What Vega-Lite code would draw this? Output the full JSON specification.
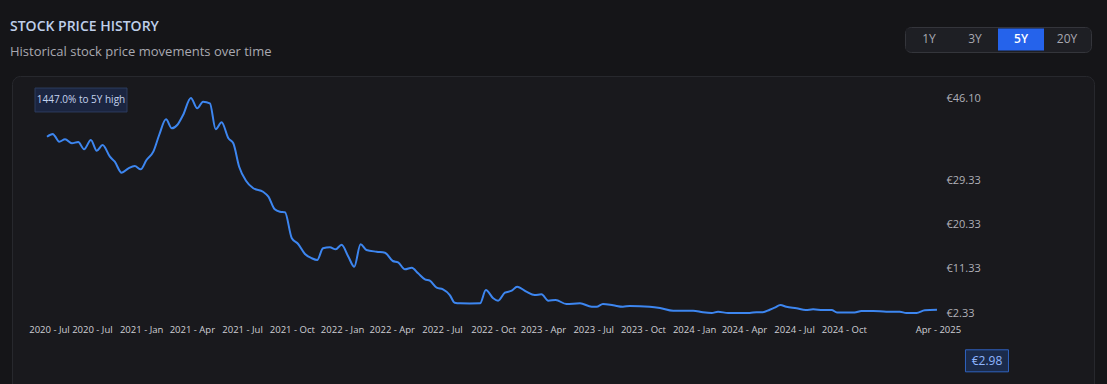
{
  "$schema": "https://vega.github.io/schema/vega-lite/v6.json",
  "width": 1082,
  "height": 318,
  "autosize": {"type": "none"},
  "padding": {"left": 12, "top": 76, "right": 13, "bottom": 0},
  "background": "#151518",
  "config": {
    "font": "Open Sans",
    "view": {"fill": "#19191d", "stroke": "#27282d", "cornerRadius": 8}
  },
  "title": {
    "text": "STOCK PRICE HISTORY",
    "subtitle": "Historical stock price movements over time",
    "anchor": "start",
    "frame": "group",
    "dx": -2,
    "dy": 50,
    "offset": 18,
    "font": "Open Sans",
    "fontSize": 14,
    "fontWeight": 600,
    "color": "#bfcfea",
    "subtitleFont": "Open Sans",
    "subtitleColor": "#a9a9b1",
    "subtitleFontSize": 13,
    "subtitlePadding": 12
  },
  "datasets": {
    "prices": [
      {"day": 0, "price": 38.22}, {"day": 12, "price": 38.77}, {"day": 16, "price": 38.36}, {"day": 25, "price": 37.20},
      {"day": 37, "price": 37.69}, {"day": 51, "price": 36.88}, {"day": 64, "price": 37.14}, {"day": 76, "price": 35.66},
      {"day": 90, "price": 37.55}, {"day": 102, "price": 35.37}, {"day": 114, "price": 36.53}, {"day": 129, "price": 34.15},
      {"day": 139, "price": 33.13}, {"day": 153, "price": 30.89}, {"day": 167, "price": 31.79}, {"day": 180, "price": 32.26},
      {"day": 192, "price": 31.58}, {"day": 204, "price": 33.48}, {"day": 218, "price": 35.17}, {"day": 230, "price": 38.57},
      {"day": 244, "price": 41.76}, {"day": 256, "price": 39.93}, {"day": 267, "price": 40.60}, {"day": 279, "price": 42.64},
      {"day": 295, "price": 46.10}, {"day": 308, "price": 44.00}, {"day": 320, "price": 45.35}, {"day": 334, "price": 45.02},
      {"day": 346, "price": 39.73}, {"day": 358, "price": 41.15}, {"day": 372, "price": 37.90}, {"day": 382, "price": 36.88},
      {"day": 394, "price": 32.11}, {"day": 408, "price": 29.26}, {"day": 423, "price": 27.72}, {"day": 443, "price": 27.02},
      {"day": 454, "price": 26.01}, {"day": 467, "price": 23.44}, {"day": 478, "price": 22.95}, {"day": 488, "price": 22.83},
      {"day": 502, "price": 17.54}, {"day": 515, "price": 16.38}, {"day": 529, "price": 14.34}, {"day": 543, "price": 13.47},
      {"day": 554, "price": 13.12}, {"day": 566, "price": 15.50}, {"day": 580, "price": 15.71}, {"day": 592, "price": 15.30},
      {"day": 604, "price": 16.23}, {"day": 618, "price": 13.79}, {"day": 630, "price": 11.76}, {"day": 643, "price": 16.32},
      {"day": 655, "price": 15.16}, {"day": 676, "price": 14.81}, {"day": 693, "price": 14.61}, {"day": 709, "price": 12.92},
      {"day": 720, "price": 12.65}, {"day": 734, "price": 11.23}, {"day": 748, "price": 11.55}, {"day": 761, "price": 10.41},
      {"day": 775, "price": 9.19}, {"day": 785, "price": 8.91}, {"day": 799, "price": 7.48}, {"day": 812, "price": 7.15},
      {"day": 826, "price": 5.99}, {"day": 836, "price": 4.43}, {"day": 847, "price": 4.30}, {"day": 867, "price": 4.28},
      {"day": 888, "price": 4.30}, {"day": 900, "price": 7.01}, {"day": 915, "price": 5.32}, {"day": 925, "price": 4.83},
      {"day": 939, "price": 6.46}, {"day": 953, "price": 6.87}, {"day": 964, "price": 7.68}, {"day": 983, "price": 6.67},
      {"day": 1000, "price": 5.99}, {"day": 1014, "price": 6.14}, {"day": 1028, "price": 4.83}, {"day": 1043, "price": 4.98},
      {"day": 1065, "price": 4.16}, {"day": 1093, "price": 4.30}, {"day": 1117, "price": 3.61}, {"day": 1127, "price": 3.61},
      {"day": 1140, "price": 4.16}, {"day": 1161, "price": 3.90}, {"day": 1181, "price": 3.61}, {"day": 1195, "price": 3.76},
      {"day": 1236, "price": 3.61}, {"day": 1257, "price": 3.35}, {"day": 1284, "price": 2.80}, {"day": 1311, "price": 2.80},
      {"day": 1325, "price": 2.80}, {"day": 1345, "price": 2.47}, {"day": 1363, "price": 2.33}, {"day": 1376, "price": 2.59},
      {"day": 1397, "price": 2.33}, {"day": 1421, "price": 2.33}, {"day": 1441, "price": 2.35}, {"day": 1455, "price": 2.47},
      {"day": 1468, "price": 2.47}, {"day": 1482, "price": 3.00}, {"day": 1492, "price": 3.41}, {"day": 1504, "price": 3.96},
      {"day": 1516, "price": 3.61}, {"day": 1537, "price": 3.29}, {"day": 1556, "price": 2.94}, {"day": 1571, "price": 3.08},
      {"day": 1591, "price": 2.94}, {"day": 1609, "price": 2.94}, {"day": 1620, "price": 2.43}, {"day": 1639, "price": 2.43},
      {"day": 1656, "price": 2.43}, {"day": 1670, "price": 2.74}, {"day": 1694, "price": 2.74}, {"day": 1721, "price": 2.59},
      {"day": 1749, "price": 2.59}, {"day": 1762, "price": 2.33}, {"day": 1783, "price": 2.35}, {"day": 1800, "price": 2.88},
      {"day": 1825, "price": 2.98}
    ],
    "ranges": [
      {"range": "1Y"}, {"range": "3Y"}, {"range": "5Y"}, {"range": "20Y"}
    ]
  },
  "layer": [
    {
      "data": {"name": "ranges"},
      "mark": {"type": "point", "filled": true, "size": 0, "opacity": 1},
      "encoding": {
        "color": {
          "field": "range",
          "type": "nominal",
          "scale": {"domain": ["1Y", "3Y", "5Y", "20Y"], "range": ["#1e1f24", "#1e1f24", "#2563eb", "#1e1f24"]},
          "legend": {
            "title": null,
            "orient": "none",
            "legendX": 893,
            "legendY": -49,
            "direction": "horizontal",
            "columns": 4,
            "columnPadding": 0,
            "rowPadding": 0,
            "symbolType": "M-1,-1H1V-0.043H-1Z",
            "symbolSize": 2116,
            "symbolStrokeWidth": 0,
            "symbolOpacity": 1,
            "labelOffset": -23,
            "labelAlign": "center",
            "labelBaseline": "middle",
            "labelFontSize": 12,
            "labelColor": "#a8a8b0",
            "fillColor": "#1e1f24",
            "strokeColor": "#34353b",
            "cornerRadius": 6,
            "padding": 1,
            "encode": {
              "labels": {
                "update": {
                  "fill": {"signal": "datum.label === '5Y' ? '#ffffff' : '#a8a8b0'"},
                  "fontWeight": {"signal": "datum.label === '5Y' ? 600 : 400"},
                  "dy": {"value": -12}
                }
              }
            }
          }
        }
      }
    },
    {
      "data": {"name": "prices"},
      "mark": {"type": "line", "interpolate": "monotone", "color": "#3d86f0", "strokeWidth": 2},
      "encoding": {
        "x": {
          "field": "day",
          "type": "quantitative",
          "scale": {"domain": [-71.8, 2147], "nice": false, "zero": false},
          "axis": {
            "title": null,
            "values": [4, 92, 193, 297, 400, 502, 605, 707, 810, 915, 1017, 1120, 1222, 1327, 1429, 1532, 1634, 1827],
            "labelExpr": "['2020 - Jul','2020 - Jul','2021 - Jan','2021 - Apr','2021 - Jul','2021 - Oct','2022 - Jan','2022 - Apr','2022 - Jul','2022 - Oct','2023 - Apr','2023 - Jul','2023 - Oct','2024 - Jan','2024 - Apr','2024 - Jul','2024 - Oct','Apr - 2025'][indexof([4, 92, 193, 297, 400, 502, 605, 707, 810, 915, 1017, 1120, 1222, 1327, 1429, 1532, 1634, 1827], datum.value)]",
            "grid": false,
            "domain": false,
            "ticks": false,
            "tickSize": 0,
            "offset": -73,
            "labelPadding": 3,
            "labelFontSize": 9.5,
            "labelColor": "#cfcfd4",
            "labelOverlap": false,
            "labelFlush": false,
            "labelBound": false
          }
        },
        "y": {
          "field": "price",
          "type": "quantitative",
          "scale": {"domain": [-14.16, 50.58], "nice": false, "zero": false},
          "axis": {
            "orient": "right",
            "title": null,
            "values": [2.33, 11.33, 20.33, 29.33, 46.1],
            "labelExpr": "'€' + format(datum.value, '.2f')",
            "grid": false,
            "domain": false,
            "ticks": false,
            "tickSize": 0,
            "offset": -152,
            "labelPadding": 4,
            "labelFontSize": 11,
            "labelColor": "#b0b0b8",
            "labelOverlap": false,
            "labelBound": false
          }
        }
      }
    },
    {
      "data": {"name": "prices"},
      "transform": [{"aggregate": [{"op": "min", "field": "day", "as": "day"}, {"op": "max", "field": "price", "as": "price"}]}],
      "mark": {"type": "point", "shape": "M-1,-0.26H1V0.26H-1Z", "size": 8464, "filled": true, "fill": "#1b2540", "stroke": "#2c3c5e", "strokeWidth": 1, "opacity": 1, "xOffset": 34, "yOffset": 2},
      "encoding": {
        "x": {"field": "day", "type": "quantitative"},
        "y": {"field": "price", "type": "quantitative"}
      }
    },
    {
      "data": {"name": "prices"},
      "transform": [{"aggregate": [{"op": "min", "field": "day", "as": "day"}, {"op": "max", "field": "price", "as": "price"}]}],
      "mark": {"type": "text", "text": "1447.0% to 5Y high", "fontSize": 10, "color": "#c5d3ee", "align": "center", "baseline": "middle", "xOffset": 34, "yOffset": 2},
      "encoding": {
        "x": {"field": "day", "type": "quantitative"},
        "y": {"field": "price", "type": "quantitative"}
      }
    },
    {
      "data": {"name": "prices"},
      "transform": [{"joinaggregate": [{"op": "max", "field": "day", "as": "lastday"}]}, {"filter": "datum.day === datum.lastday"}],
      "mark": {"type": "point", "shape": "M-1,-0.512H1V0.512H-1Z", "size": 1849, "filled": true, "fill": "#1b2b4b", "stroke": "#2f62c0", "strokeWidth": 1, "opacity": 1, "xOffset": 50, "yOffset": 51},
      "encoding": {
        "x": {"field": "day", "type": "quantitative"},
        "y": {"field": "price", "type": "quantitative"}
      }
    },
    {
      "data": {"name": "prices"},
      "transform": [{"joinaggregate": [{"op": "max", "field": "day", "as": "lastday"}]}, {"filter": "datum.day === datum.lastday"}],
      "mark": {"type": "text", "text": "€2.98", "fontSize": 12, "color": "#8fb6ff", "align": "center", "baseline": "middle", "xOffset": 50, "yOffset": 51},
      "encoding": {
        "x": {"field": "day", "type": "quantitative"},
        "y": {"field": "price", "type": "quantitative"}
      }
    }
  ]
}
